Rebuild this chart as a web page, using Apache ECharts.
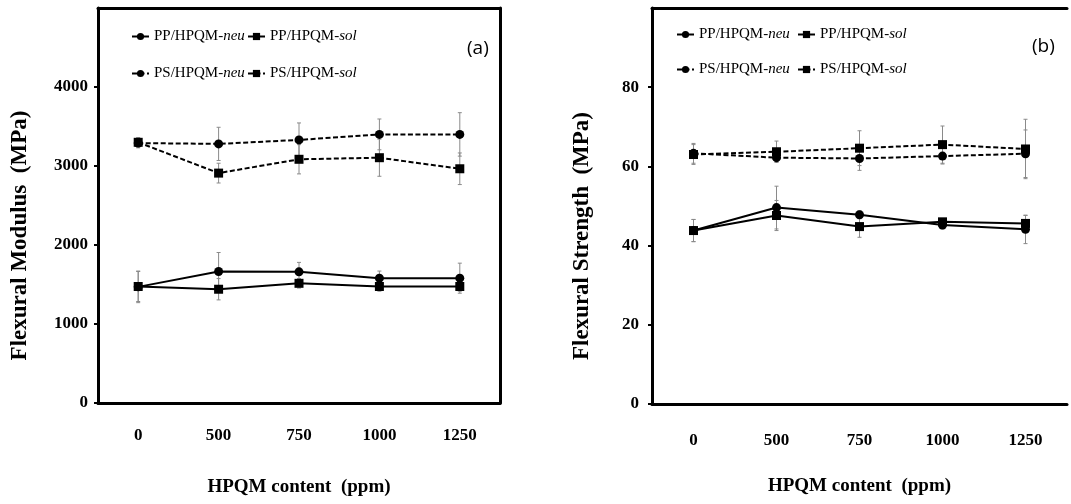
<!DOCTYPE html>
<html>
<head>
<meta charset="utf-8">
<style>
    html, body { margin: 0; padding: 0; background: #fff; }
    #chart { width: 1071px; height: 504px; }
</style>
<script src="https://cdn.jsdelivr.net/npm/echarts@6/dist/echarts.min.js"></script>
</head>
<body>
<div id="chart"></div>
<script>
const contentLabels = ['0', '500', '750', '1000', '1250'];
const seriesNames = ['PP/HPQM-neu', 'PP/HPQM-sol', 'PS/HPQM-neu', 'PS/HPQM-sol'];

// (a) flexural modulus, MPa
const modulusPPneu = [1470, 1665, 1660, 1580, 1580];
const modulusPPsol = [1475, 1440, 1515, 1475, 1475];
const modulusPSneu = [3290, 3280, 3330, 3400, 3400];
const modulusPSsol = [3300, 2910, 3085, 3105, 2965];
const modulusErrPPneu = [200, 240, 120, 90, 190];
const modulusErrPPsol = [190, 135, 60, 60, 60];
const modulusErrPSneu = [60, 210, 215, 195, 275];
const modulusErrPSsol = [60, 125, 185, 235, 200];

// (b) flexural strength, MPa
const strengthPPneu = [43.8, 49.6, 47.8, 45.2, 44.1];
const strengthPPsol = [43.8, 47.6, 44.8, 46.0, 45.6];
const strengthPSneu = [63.3, 62.2, 62.0, 62.6, 63.2];
const strengthPSsol = [63.0, 63.7, 64.6, 65.5, 64.4];
const strengthErrPPneu = [2.8, 5.4, 1.0, 1.0, 3.6];
const strengthErrPPsol = [2.8, 3.8, 2.7, 0.8, 2.0];
const strengthErrPSneu = [2.5, 1.0, 3.0, 2.0, 6.0];
const strengthErrPSsol = [2.5, 2.7, 4.4, 4.7, 7.5];

const SERIF = 'Liberation Serif';
const BLACK = '#000';

const lineStyles = {
    'PP/HPQM-neu': { symbol: 'circle', type: 'solid' },
    'PP/HPQM-sol': { symbol: 'rect', type: 'solid' },
    'PS/HPQM-neu': { symbol: 'circle', type: [5, 2.5] },
    'PS/HPQM-sol': { symbol: 'rect', type: [5, 2.5] }
};

function lineSeries(name, values, gridIndex) {
    const style = lineStyles[name];
    return {
        name: name,
        type: 'line',
        xAxisIndex: gridIndex * 2,
        yAxisIndex: gridIndex * 2,
        data: values,
        symbol: style.symbol,
        symbolSize: 9,
        z: 3,
        lineStyle: { color: BLACK, width: 2, type: style.type },
        itemStyle: { color: BLACK },
        emphasis: { disabled: true }
    };
}

function errorSeries(values, errs, gridIndex) {
    return {
        type: 'custom',
        xAxisIndex: gridIndex * 2,
        yAxisIndex: gridIndex * 2,
        z: 2,
        silent: true,
        data: values.map((v, i) => [i, v - errs[i], v + errs[i]]),
        encode: { x: 0, y: [1, 2] },
        renderItem: (params, api) => {
            const lo = api.coord([api.value(0), api.value(1)]);
            const hi = api.coord([api.value(0), api.value(2)]);
            const cap = 2;
            const style = { stroke: '#8a8a8a', lineWidth: 1 };
            return {
                type: 'group',
                children: [
                    { type: 'line', shape: { x1: lo[0], y1: lo[1], x2: hi[0], y2: hi[1] }, style: style },
                    { type: 'line', shape: { x1: lo[0] - cap, y1: lo[1], x2: lo[0] + cap, y2: lo[1] }, style: style },
                    { type: 'line', shape: { x1: hi[0] - cap, y1: hi[1], x2: hi[0] + cap, y2: hi[1] }, style: style }
                ]
            };
        }
    };
}

function legendItem(name, left, top) {
    return {
        data: [name],
        left: left,
        top: top,
        padding: 0,
        itemWidth: 17,
        itemHeight: 9,
        selectedMode: false,
        formatter: (n) => {
            const parts = n.split('-');
            return `{a|${parts[0]}-}{b|${parts[1]}}`;
        },
        textStyle: {
            rich: {
                a: { fontFamily: SERIF, fontSize: 15, color: BLACK },
                b: { fontFamily: SERIF, fontSize: 15, fontStyle: 'italic', color: BLACK }
            }
        }
    };
}

function bottomAxis(gridIndex, margin, nameGap) {
    return {
        type: 'category',
        gridIndex: gridIndex,
        data: contentLabels,
        boundaryGap: true,
        name: 'HPQM content  (ppm)',
        nameLocation: 'middle',
        nameGap: nameGap,
        nameTextStyle: { fontFamily: SERIF, fontSize: 19, fontWeight: 'bold', color: BLACK },
        axisLine: { lineStyle: { color: BLACK, width: 3 } },
        axisTick: { alignWithLabel: true, length: 4, lineStyle: { color: BLACK, width: 2 } },
        axisLabel: { margin: margin, fontFamily: SERIF, fontSize: 17, fontWeight: 'bold', color: BLACK },
        splitLine: { show: false }
    };
}

function topAxis(gridIndex) {
    return {
        type: 'category',
        gridIndex: gridIndex,
        position: 'top',
        data: contentLabels,
        axisLine: { show: true, onZero: false, lineStyle: { color: BLACK, width: 3 } },
        axisTick: { show: false },
        axisLabel: { show: false }
    };
}

function leftAxis(gridIndex, name, max, interval, margin, nameGap) {
    return {
        type: 'value',
        gridIndex: gridIndex,
        min: 0,
        max: max,
        interval: interval,
        name: name,
        nameLocation: 'middle',
        nameGap: nameGap,
        nameTextStyle: {
            fontFamily: SERIF, fontSize: 23, fontWeight: 'bold', color: BLACK,
            padding: [0, 60, 0, 0]
        },
        axisLine: { show: true, lineStyle: { color: BLACK, width: 3 } },
        axisTick: { show: true, length: 4, lineStyle: { color: BLACK, width: 2 } },
        axisLabel: {
            margin: margin,
            showMaxLabel: false,
            formatter: (v) => String(v),
            fontFamily: SERIF, fontSize: 17, fontWeight: 'bold', color: BLACK
        },
        splitLine: { show: false }
    };
}

function rightAxis(gridIndex, max, show) {
    return {
        type: 'value',
        gridIndex: gridIndex,
        position: 'right',
        min: 0,
        max: max,
        axisLine: { show: show, onZero: false, lineStyle: { color: BLACK, width: 3 } },
        axisTick: { show: false },
        axisLabel: { show: false },
        splitLine: { show: false }
    };
}

const chart = echarts.init(document.getElementById('chart'), null, { renderer: 'canvas' });

chart.setOption({
    animation: false,
    backgroundColor: '#fff',
    title: [
        { text: '(a)', left: 462, top: 34, textStyle: { fontFamily: 'Open Sans', fontSize: 19, fontWeight: 'normal', color: BLACK } },
        { text: '(b)', left: 1027, top: 32, textStyle: { fontFamily: 'Open Sans', fontSize: 19, fontWeight: 'normal', color: BLACK } }
    ],
    legend: [
        legendItem(seriesNames[0], 131, 29),
        legendItem(seriesNames[1], 247, 29),
        legendItem(seriesNames[2], 131, 66),
        legendItem(seriesNames[3], 247, 66),
        legendItem(seriesNames[0], 676, 27),
        legendItem(seriesNames[1], 797, 27),
        legendItem(seriesNames[2], 676, 62),
        legendItem(seriesNames[3], 797, 62)
    ],
    grid: [
        { left: 98, right: 571, top: 8, bottom: 101 },
        { left: 652, right: 4, top: 8, bottom: 100 }
    ],
    xAxis: [
        bottomAxis(0, 24, 75),
        topAxis(0),
        bottomAxis(1, 28, 73),
        topAxis(1)
    ],
    yAxis: [
        leftAxis(0, 'Flexural Modulus  (MPa)', 5000, 1000, 10, 66),
        rightAxis(0, 5000, true),
        leftAxis(1, 'Flexural Strength  (MPa)', 100, 20, 13, 58),
        rightAxis(1, 100, false)
    ],
    series: [
        errorSeries(modulusPPneu, modulusErrPPneu, 0),
        errorSeries(modulusPPsol, modulusErrPPsol, 0),
        errorSeries(modulusPSneu, modulusErrPSneu, 0),
        errorSeries(modulusPSsol, modulusErrPSsol, 0),
        lineSeries(seriesNames[0], modulusPPneu, 0),
        lineSeries(seriesNames[1], modulusPPsol, 0),
        lineSeries(seriesNames[2], modulusPSneu, 0),
        lineSeries(seriesNames[3], modulusPSsol, 0),
        errorSeries(strengthPPneu, strengthErrPPneu, 1),
        errorSeries(strengthPPsol, strengthErrPPsol, 1),
        errorSeries(strengthPSneu, strengthErrPSneu, 1),
        errorSeries(strengthPSsol, strengthErrPSsol, 1),
        lineSeries(seriesNames[0], strengthPPneu, 1),
        lineSeries(seriesNames[1], strengthPPsol, 1),
        lineSeries(seriesNames[2], strengthPSneu, 1),
        lineSeries(seriesNames[3], strengthPSsol, 1)
    ]
});
</script>
</body>
</html>
